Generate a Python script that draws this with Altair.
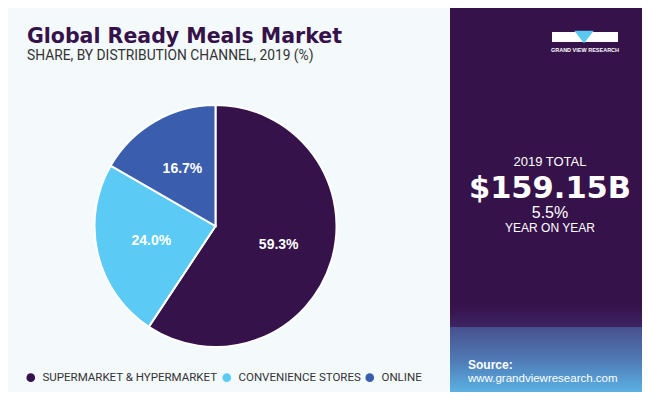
import altair as alt
import pandas as pd

# ---- data ----
categories = ["SUPERMARKET & HYPERMARKET", "CONVENIENCE STORES", "ONLINE"]
shares = [59.3, 24.0, 16.7]
colors = ["#36124a", "#5bcbf5", "#3a5dae"]

title = "Global Ready Meals Market"
subtitle = "SHARE, BY DISTRIBUTION CHANNEL, 2019 (%)"
total_label = "2019 TOTAL"
total_value = "$159.15B"
growth = "5.5%"
growth_label = "YEAR ON YEAR"
source_head = "Source:"
source_url = "www.grandviewresearch.com"
brand = "GRAND VIEW RESEARCH"

# page margin offset (reference coords -> chart coords)
OX, OY = 8, 8


def px(v):
    return v - OX


def py(v):
    return v - OY


df = pd.DataFrame({
    "channel": categories,
    "share": shares,
    "order": list(range(len(categories))),
    "label": [f"{s:.1f}%" for s in shares],
})
one = pd.DataFrame({"k": [0]})

PURPLE = "#36124a"


def rect(x1, x2, y1, y2, fill):
    return alt.Chart(one).mark_rect(fill=fill).encode(
        x=alt.value(px(x1)), x2=alt.value(px(x2)),
        y=alt.value(py(y1)), y2=alt.value(py(y2)))


def vgrad(c):
    return alt.LinearGradient(
        gradient="linear", x1=0, x2=0, y1=0, y2=1,
        stops=[alt.GradientStop(color=col, offset=off) for col, off in c])


def txt(s, x, y, size, color, weight="normal", align="left", font="Liberation Sans"):
    return alt.Chart(one).mark_text(
        text=s, fontSize=size, color=color, fontWeight=weight, align=align,
        baseline="alphabetic", font=font).encode(x=alt.value(px(x)), y=alt.value(py(y)))


# backgrounds
top_bar = rect(0, 650, 0, 5, "#5bc8f0")
right_panel = rect(450, 650, 5, 400, PURPLE)
fade = rect(450, 650, 305, 327, vgrad([(PURPLE, 0), ("#3d2463", 1)]))
floor = rect(450, 650, 327, 400, vgrad([("#48508e", 0), ("#4f7ab5", 0.45),
                                        ("#58a6da", 0.8), ("#62bdec", 1)]))

# logo
logo_box = rect(552, 618, 32, 42, "white")
logo_tri = alt.Chart(one).mark_point(
    shape="M-1,-0.65L1,-0.65L0,0.65Z", size=380, filled=True, fill="#5bc8f0", opacity=1, strokeWidth=0
).encode(x=alt.value(px(584)), y=alt.value(py(37)))
logo_txt = txt(brand, 585, 52, 5.5, "white", "bold", "center")

# pie
CX, CY, R = 215.5, 226, 121
base = alt.Chart(df).encode(
    theta=alt.Theta("share:Q", stack=True),
    order=alt.Order("order:Q"),
)
arcs = base.mark_arc(outerRadius=R, stroke="white", strokeWidth=2).encode(
    color=alt.Color(
        "channel:N",
        scale=alt.Scale(domain=categories, range=colors),
        sort=categories,
        legend=alt.Legend(
            title=None, orient="none", legendX=px(25), legendY=py(371.5),
            direction="horizontal", symbolType="circle", symbolSize=75,
            symbolStrokeWidth=0, labelFontSize=11.5, labelFont="Roboto",
            labelColor="#333333", columnPadding=3, labelOffset=6, padding=0,
            labelLimit=400),
    ),
    x=alt.value(px(CX)), y=alt.value(py(CY)),
)
labels = base.mark_text(
    radius=66, fontSize=14, fontWeight="bold", color="white", font="Liberation Sans"
).encode(text="label:N", x=alt.value(px(CX)), y=alt.value(py(CY)))

# texts
t_title = txt(title, 27, 42.5, 20.5, PURPLE, "bold", font="DejaVu Sans")
t_sub = txt(subtitle, 27, 59.5, 13.8, "#333333", "normal", font="Roboto")
t_tot = txt(total_label, 550, 166, 13, "white", "normal", "center")
t_val = txt(total_value, 550, 198, 30.5, "white", "bold", "center", font="DejaVu Sans")
t_gr = txt(growth, 550, 218, 16, "white", "normal", "center")
t_yoy = txt(growth_label, 550, 232, 12, "white", "normal", "center")
t_src = txt(source_head, 468, 369, 12, "white", "bold")
t_url = txt(source_url, 468, 382, 11.5, "white", "normal")

chart = alt.layer(
    top_bar, right_panel, fade, floor, logo_box, logo_tri, logo_txt,
    arcs, labels,
    t_title, t_sub, t_tot, t_val, t_gr, t_yoy, t_src, t_url,
).properties(
    width=634, height=384, autosize="none", padding=0, background="#f4f9fc"
).configure_view(stroke=None)

chart.save("out.html", embed_options={"renderer": "svg", "actions": False})
